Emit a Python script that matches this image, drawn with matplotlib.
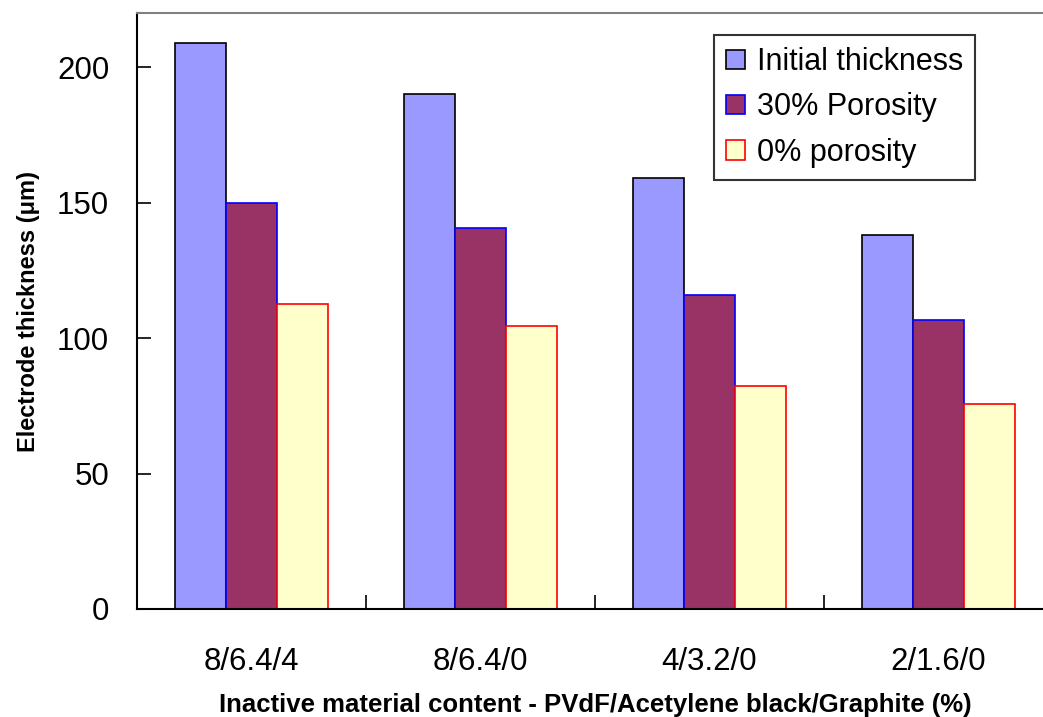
import numpy as np
import matplotlib
matplotlib.use("Agg")
import matplotlib.pyplot as plt

plt.rcParams['font.family'] = ['Liberation Sans', 'DejaVu Sans']

categories = ['8/6.4/4', '8/6.4/0', '4/3.2/0', '2/1.6/0']
initial = [209, 190, 159, 138]
porosity30 = [150, 140.5, 116, 106.5]
porosity0 = [112.5, 104.5, 82.5, 75.5]

fig = plt.figure(figsize=(10.43, 7.17), dpi=100)
# axes extends a bit past the right edge, as in the reference crop
ax = fig.add_axes([137/1043, (717-609)/717, (1053-137)/1043, (609-13)/717])

x = np.arange(len(categories))
w = 0.667/3
ax.bar(x - w, initial, w, color='#9999FF', edgecolor='black', linewidth=1.2, label='Initial thickness')
ax.bar(x, porosity30, w, color='#993366', edgecolor='#0000FF', linewidth=1.2, label='30% Porosity')
ax.bar(x + w, porosity0, w, color='#FFFFCC', edgecolor='#FF0000', linewidth=1.2, label='0% porosity')

ax.set_xlim(-0.5, len(categories) - 0.5)
ax.set_ylim(0, 220)
ax.set_yticks([0, 50, 100, 150, 200])
ax.set_xticks(x)
ax.set_xticklabels(categories)
ax.set_xticks(np.arange(len(categories) - 1) + 0.5, minor=True)
ax.tick_params(axis='x', which='major', length=0, pad=27, labelsize=22.5)
ax.tick_params(axis='x', which='minor', direction='in', length=10, width=1.2)
ax.tick_params(axis='y', direction='in', length=10, width=1.2, labelsize=22.5, pad=20)

for s in ['left', 'bottom']:
    ax.spines[s].set_linewidth(1.5)
for s in ['top', 'right']:
    ax.spines[s].set_color('#808080')
    ax.spines[s].set_linewidth(1.5)

ax.set_ylabel('Electrode thickness (\u03bcm)', fontsize=17, fontweight='bold', labelpad=12)
ax.set_xlabel('Inactive material content - PVdF/Acetylene black/Graphite (%)',
              fontsize=18.5, fontweight='bold', labelpad=12)

leg = ax.legend(loc='upper left', bbox_to_anchor=((714-137)/916, (609-35)/596),
                fontsize=22, frameon=True, fancybox=False, edgecolor='black',
                handlelength=0.6, handleheight=0.6, handletextpad=0.4,
                labelspacing=0.5, borderpad=0.4, borderaxespad=0)
leg.get_frame().set_linewidth(1.5)

plt.savefig("out.png", dpi=100)
